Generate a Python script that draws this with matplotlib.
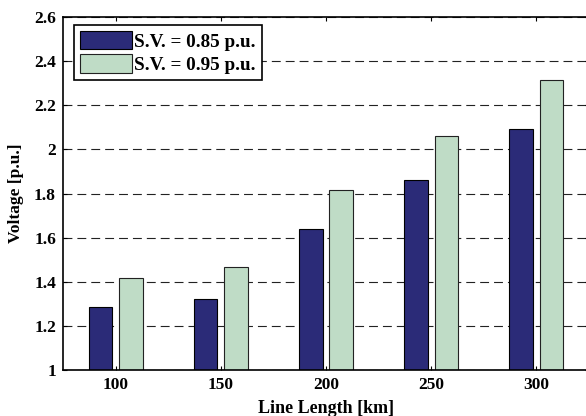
import numpy as np
import matplotlib
matplotlib.use("Agg")
import matplotlib.pyplot as plt

# line length categories and the two source voltage cases
lengths = ["100", "150", "200", "250", "300"]
sv_085 = [1.284, 1.321, 1.637, 1.860, 2.091]
sv_095 = [1.417, 1.466, 1.815, 2.059, 2.313]
series_labels = ["S.V. = 0.85 p.u.", "S.V. = 0.95 p.u."]
yticks = [1, 1.2, 1.4, 1.6, 1.8, 2, 2.2, 2.4, 2.6]
ytick_labels = ["1", "1.2", "1.4", "1.6", "1.8", "2", "2.2", "2.4", "2.6"]

plt.rcParams['font.family'] = ['Liberation Serif', 'DejaVu Serif']
plt.rcParams['font.weight'] = 'bold'

fig = plt.figure(figsize=(5.86, 4.16), dpi=100)
ax = fig.add_axes([63 / 586, 46 / 416, 526 / 586, 353 / 416])

x = np.arange(1, len(lengths) + 1)
w = 0.225
ax.bar(x - 0.145, sv_085, w, color='#2b2b78', edgecolor='black', linewidth=0.8,
       label=series_labels[0], zorder=3)
ax.bar(x + 0.145, sv_095, w, color='#bfdcc6', edgecolor='#222222', linewidth=0.8,
       label=series_labels[1], zorder=3)

ax.set_xlim(0.5, 5.5)
ax.set_ylim(1, 2.6)
ax.set_xticks(x)
ax.set_xticklabels(lengths)
ax.set_yticks(yticks)
ax.set_yticklabels(ytick_labels)
ax.tick_params(direction='in', length=3, width=0.8, labelsize=12.5,
               top=True, right=True, pad=5)

ax.yaxis.grid(True, linestyle=(0, (8, 4.5)), color='#222222', linewidth=0.8)
ax.set_axisbelow(True)
for s in ax.spines.values():
    s.set_linewidth(1.2)
    s.set_zorder(4)

ax.set_xlabel("Line Length [km]", fontsize=13, fontweight='bold', labelpad=5)
ax.set_ylabel("Voltage [p.u.]", fontsize=12.5, fontweight='bold', labelpad=7)

leg = ax.legend(loc='upper left', bbox_to_anchor=(0.021, 0.977), fontsize=13.8,
                fancybox=False, framealpha=1, edgecolor='black',
                handlelength=2.7, handleheight=1.1, handletextpad=0.15,
                borderpad=0.3, labelspacing=0.2, borderaxespad=0)
leg.get_frame().set_linewidth(1.2)
for t in leg.get_texts():
    t.set_fontweight('bold')

fig.savefig("out.png", dpi=100)
